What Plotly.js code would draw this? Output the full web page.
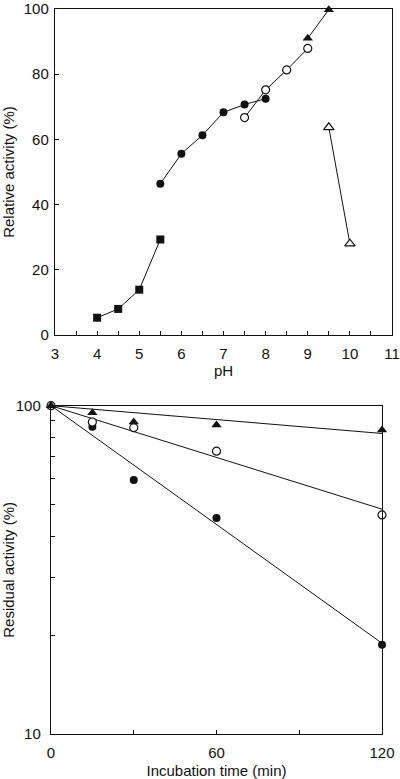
<!DOCTYPE html>
<html>
<head>
<meta charset="utf-8">
<script src="https://cdn.plot.ly/plotly-3.0.1.min.js"></script>
<style>html,body{margin:0;padding:0;background:#fff;}#chart{width:400px;height:779px;}</style>
</head>
<body>
<div id="chart"></div>
<script>
// ---- Top panel: pH profile ----
const phSquares = [4, 4.5, 5, 5.5];
const actSquares = [5.3, 8.0, 13.9, 29.3];
const phFilledCircles = [5.5, 6, 6.5, 7, 7.5, 8];
const actFilledCircles = [46.4, 55.6, 61.3, 68.3, 70.7, 72.5];
const phOpenCircles = [7.5, 8, 8.5, 9];
const actOpenCircles = [66.7, 75.2, 81.3, 87.9];
const phFilledTriangles = [9, 9.5];
const actFilledTriangles = [91.0, 99.8];
const phOpenTriangles = [9.5, 10];
const actOpenTriangles = [63.7, 28.0];
const phTicks = [3, 4, 5, 6, 7, 8, 9, 10, 11];
const relTicks = [0, 20, 40, 60, 80, 100];

// ---- Bottom panel: thermal stability ----
const timeTri = [0, 15, 30, 60, 120];
const resTri = [100, 95.2, 89.2, 87.3, 84.3];
const timeOpen = [0, 15, 30, 60, 120];
const resOpen = [100, 89.2, 85.7, 72.7, 46.5];
const timeFilled = [0, 15, 30, 60, 120];
const resFilled = [100, 86.3, 59.4, 45.5, 18.7];
const fitTime = [0, 120];
const fitTri = [100, 82.3];
const fitOpen = [100, 48.4];
const fitFilled = [100, 18.9];
const timeTickVals = [0, 30, 60, 90, 120];
const timeTickText = ['0', '', '60', '', '120'];
const resTickVals = [10, 20, 30, 40, 50, 60, 70, 80, 90, 100];
const resTickText = ['10', '', '', '', '', '', '', '', '', '100'];

const ink = '#111';
const lineStyle = {color: ink, width: 1};
function mk(symbol, size, open) {
  return {symbol: symbol, size: size, color: open ? '#fff' : ink,
          line: {color: ink, width: open ? 1.2 : 0}};
}
function series(x, y, sym, size, open, xa, ya, mode) {
  return {x: x, y: y, type: 'scatter', mode: mode || 'lines+markers',
          line: lineStyle, marker: mk(sym, size, open),
          xaxis: xa, yaxis: ya, cliponaxis: false, showlegend: false, hoverinfo: 'skip'};
}

const data = [
  series(phSquares, actSquares, 'square', 8, false, 'x', 'y'),
  series(phFilledCircles, actFilledCircles, 'circle', 8, false, 'x', 'y'),
  series(phOpenCircles, actOpenCircles, 'circle', 8, true, 'x', 'y'),
  series(phFilledTriangles, actFilledTriangles, 'triangle-up', 9, false, 'x', 'y'),
  series(phOpenTriangles, actOpenTriangles, 'triangle-up', 9, true, 'x', 'y'),
  {x: fitTime, y: fitTri, type: 'scatter', mode: 'lines', line: lineStyle, xaxis: 'x2', yaxis: 'y2', showlegend: false, hoverinfo: 'skip'},
  {x: fitTime, y: fitOpen, type: 'scatter', mode: 'lines', line: lineStyle, xaxis: 'x2', yaxis: 'y2', showlegend: false, hoverinfo: 'skip'},
  {x: fitTime, y: fitFilled, type: 'scatter', mode: 'lines', line: lineStyle, xaxis: 'x2', yaxis: 'y2', showlegend: false, hoverinfo: 'skip'},
  series(timeFilled, resFilled, 'circle', 8, false, 'x2', 'y2', 'markers'),
  series(timeOpen, resOpen, 'circle', 8, true, 'x2', 'y2', 'markers'),
  series(timeTri, resTri, 'triangle-up', 9, false, 'x2', 'y2', 'markers')
];

const font = {family: '"Liberation Sans", Arial, sans-serif', size: 15, color: ink};
const axBase = {showline: true, linecolor: ink, linewidth: 1.2, mirror: true,
  showgrid: false, zeroline: false, ticks: 'inside', ticklen: 4, tickwidth: 1,
  tickcolor: ink, tickfont: font, fixedrange: true, ticklabeloverflow: 'allow'};

const H = 779, W = 400;
const layout = {
  width: W, height: H, margin: {l: 0, r: 0, t: 0, b: 0},
  paper_bgcolor: '#fff', plot_bgcolor: '#fff', font: font, showlegend: false,
  xaxis: Object.assign({}, axBase, {
    domain: [55 / W, 392 / W], range: [3, 11], tickvals: phTicks, anchor: 'y',
    minor: {dtick: 0.5, ticks: 'inside', ticklen: 4, tickcolor: ink, showgrid: false},
    ticklabelstandoff: 5,
    title: {text: 'pH', font: font, standoff: 3}
  }),
  yaxis: Object.assign({}, axBase, {
    domain: [(H - 335) / H, (H - 9) / H], range: [0, 100], tickvals: relTicks, anchor: 'x',
    ticklabelstandoff: 2,
    title: {text: 'Relative activity (%)', font: font, standoff: 5}
  }),
  xaxis2: Object.assign({}, axBase, {
    domain: [51 / W, 382 / W], range: [0, 120], tickvals: timeTickVals, ticktext: timeTickText,
    anchor: 'y2', ticklabelstandoff: 5,
    title: {text: 'Incubation time (min)', font: font, standoff: 6}
  }),
  yaxis2: Object.assign({}, axBase, {
    domain: [(H - 734) / H, (H - 405.7) / H], type: 'log', range: [1, 2],
    tickvals: resTickVals, ticktext: resTickText, anchor: 'x2', ticklabelstandoff: 6,
    title: {text: 'Residual activity (%)', font: font, standoff: 5}
  })
};

Plotly.newPlot('chart', data, layout, {staticPlot: true, displayModeBar: false});
</script>
</body>
</html>
